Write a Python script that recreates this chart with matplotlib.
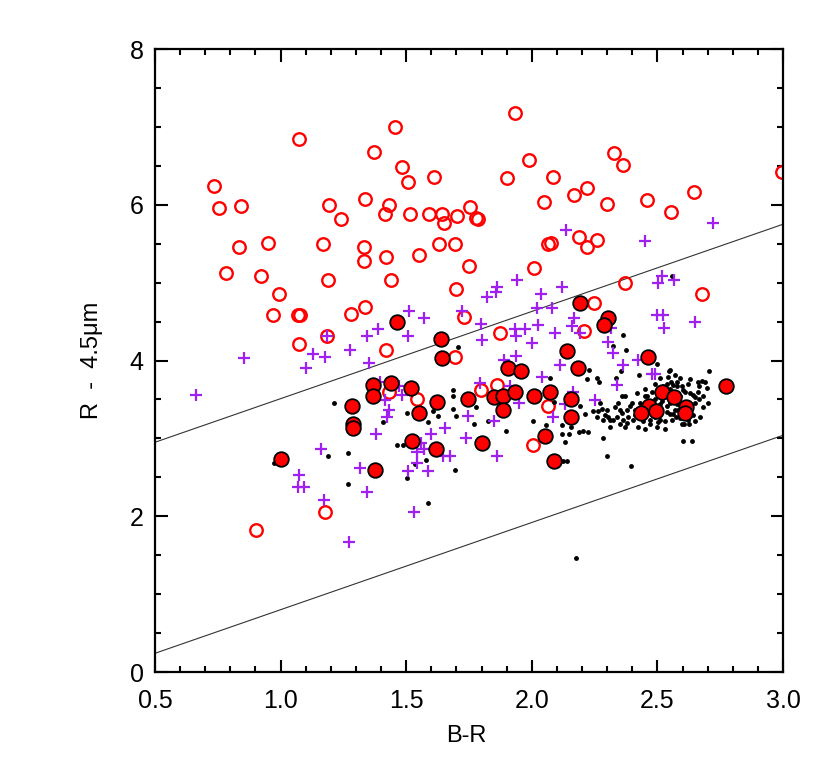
import numpy as np
import matplotlib
matplotlib.use("Agg")
from matplotlib import pyplot as plt
from matplotlib.ticker import MultipleLocator

plt.rcParams['font.family'] = ['Liberation Sans', 'DejaVu Sans']

# red open circles (B-R, R-4.5um)
red_open = [
    (1.073, 6.85), (1.372, 6.68), (1.455, 7.00), (0.735, 6.24), (0.755, 5.96),
    (0.842, 5.99), (1.193, 6.00), (1.336, 6.08), (1.240, 5.82), (1.432, 6.00),
    (1.416, 5.88), (0.834, 5.46), (0.950, 5.51), (1.169, 5.49), (1.332, 5.46),
    (1.332, 5.28), (1.420, 5.33), (0.783, 5.12), (0.922, 5.09), (1.189, 5.04),
    (1.440, 5.04), (0.994, 4.85), (1.933, 7.18), (1.989, 6.58), (1.483, 6.49),
    (1.611, 6.36), (1.507, 6.29), (1.901, 6.35), (2.084, 6.36), (2.220, 6.22),
    (2.168, 6.13), (2.049, 6.04), (1.515, 5.88), (1.591, 5.88), (1.643, 5.88),
    (1.650, 5.76), (1.702, 5.85), (1.754, 5.97), (1.778, 5.83), (1.786, 5.82),
    (1.631, 5.50), (1.694, 5.50), (1.551, 5.36), (1.750, 5.22), (2.064, 5.50),
    (2.076, 5.51), (2.188, 5.59), (2.220, 5.46), (2.009, 5.19), (1.698, 4.92),
    (2.327, 6.67), (2.363, 6.51), (2.299, 6.01), (2.459, 6.06), (2.554, 5.91),
    (2.646, 6.17), (2.260, 5.55), (2.371, 4.99), (2.995, 6.42), (2.678, 4.85),
    (0.970, 4.59), (1.069, 4.59), (1.077, 4.59), (1.280, 4.60), (1.336, 4.69),
    (1.185, 4.31), (1.073, 4.21), (1.420, 4.14), (1.432, 3.59), (1.177, 2.05),
    (0.902, 1.82), (1.730, 4.56), (1.873, 4.35), (2.248, 4.74), (2.208, 4.38),
    (1.694, 4.04), (1.543, 3.51), (1.798, 3.62), (1.861, 3.68), (2.064, 3.41),
    (2.005, 2.91),
]

# red filled circles
red_filled = [
    (1.463, 4.50), (1.639, 4.28), (1.643, 4.03), (1.368, 3.69), (1.440, 3.71),
    (1.368, 3.55), (1.284, 3.42), (1.288, 3.19), (1.288, 3.13), (1.002, 2.74),
    (1.376, 2.60), (1.519, 3.65), (1.551, 3.33), (1.623, 3.47), (1.746, 3.51),
    (1.850, 3.53), (1.885, 3.55), (1.933, 3.60), (2.009, 3.55), (2.072, 3.60),
    (1.885, 3.36), (1.905, 3.91), (1.957, 3.87), (2.192, 4.74), (2.303, 4.55),
    (2.287, 4.45), (2.140, 4.12), (2.184, 3.91), (2.156, 3.51), (2.156, 3.27),
    (1.523, 2.97), (1.619, 2.87), (1.802, 2.94), (2.053, 3.03), (2.088, 2.71),
    (2.463, 4.05), (2.773, 3.67), (2.518, 3.60), (2.566, 3.53), (2.467, 3.42),
    (2.435, 3.33), (2.494, 3.35), (2.614, 3.40), (2.610, 3.32),
]

# purple plus signs
purple_plus = [
    (0.854, 4.03), (0.663, 3.56), (1.129, 4.08), (1.177, 4.04), (1.101, 3.91),
    (1.276, 4.14), (1.344, 4.31), (1.388, 4.40), (1.352, 3.97), (1.185, 4.31),
    (1.416, 3.49), (1.432, 3.36), (1.424, 3.28), (1.380, 3.06), (1.161, 2.86),
    (1.316, 2.62), (1.073, 2.53), (1.069, 2.38), (1.093, 2.37), (1.344, 2.31),
    (1.173, 2.21), (1.272, 1.67), (1.861, 4.95), (1.822, 4.82), (1.857, 4.88),
    (1.941, 5.03), (2.037, 4.85), (2.120, 4.95), (2.021, 4.67), (2.080, 4.68),
    (1.511, 4.63), (1.571, 4.55), (1.507, 4.32), (1.798, 4.47), (1.802, 4.26),
    (1.722, 4.63), (1.933, 4.40), (1.937, 4.31), (1.973, 4.40), (2.025, 4.46),
    (2.001, 4.23), (2.092, 4.35), (2.160, 4.44), (2.168, 4.55), (2.192, 4.35),
    (2.303, 4.24), (2.323, 4.10), (1.889, 4.01), (1.937, 4.06), (2.112, 3.94),
    (2.041, 3.79), (2.363, 3.94), (2.339, 3.69), (2.164, 3.60), (2.252, 3.49),
    (1.794, 3.71), (1.913, 3.67), (1.949, 3.46), (2.132, 3.44), (2.084, 3.27),
    (1.746, 3.29), (1.850, 3.22), (1.654, 3.13), (1.599, 3.06), (1.738, 3.01),
    (1.559, 2.94), (1.543, 2.82), (1.571, 2.87), (1.647, 2.77), (1.675, 2.77),
    (1.543, 2.69), (1.507, 2.58), (1.587, 2.58), (1.861, 2.77), (1.396, 3.72),
    (1.471, 3.67), (1.483, 3.56), (2.136, 5.68), (2.502, 5.00), (2.518, 5.09),
    (2.566, 5.03), (2.451, 5.53), (2.721, 5.76), (2.498, 4.59), (2.522, 4.59),
    (2.526, 4.42), (2.650, 4.49), (2.315, 4.42), (2.423, 4.01), (2.479, 3.83),
    (2.491, 3.83), (1.531, 2.06),
]

# small black dots
black_dots = [
    (1.213, 3.46), (1.408, 3.21), (1.463, 2.91), (1.189, 2.78), (1.268, 2.81),
    (1.268, 2.41), (0.974, 2.69), (1.706, 4.17), (1.686, 3.62), (1.686, 3.54),
    (1.730, 3.54), (1.778, 3.40), (1.770, 3.19), (1.826, 3.22), (1.897, 3.09),
    (1.698, 3.29), (1.686, 3.38), (1.627, 3.29), (1.587, 3.21), (1.607, 3.35),
    (1.503, 3.33), (1.535, 3.27), (1.487, 2.91), (1.579, 2.72), (1.694, 2.59),
    (1.503, 2.49), (1.396, 2.60), (1.535, 2.67), (2.072, 3.77), (2.088, 3.47),
    (2.005, 3.22), (2.057, 3.17), (2.120, 3.17), (2.120, 3.06), (2.148, 3.06),
    (2.156, 3.15), (2.132, 2.95), (2.124, 2.71), (2.140, 2.71), (2.188, 3.08),
    (2.224, 3.08), (2.212, 3.31), (2.220, 3.76), (2.260, 3.77), (2.268, 3.72),
    (2.335, 3.78), (2.355, 3.86), (2.375, 4.14), (2.323, 4.19), (2.363, 4.33),
    (2.279, 3.38), (2.299, 3.37), (2.283, 3.24), (2.311, 3.24), (2.244, 3.35),
    (2.283, 3.00), (2.299, 2.77), (1.587, 2.17), (2.176, 1.47), (2.560, 5.08),
    (2.228, 3.88), (2.427, 3.82), (2.498, 3.95), (2.546, 3.87), (2.192, 3.41),
    (2.264, 3.35), (2.343, 3.46), (2.359, 3.55), (2.371, 3.55), (2.351, 3.37),
    (2.379, 3.37), (2.391, 3.41), (2.411, 3.37), (2.431, 3.46), (2.451, 3.63),
    (2.459, 3.54), (2.303, 3.27), (2.323, 3.24), (2.339, 3.28), (2.363, 3.24),
    (2.383, 3.27), (2.403, 3.24), (2.443, 3.22), (2.471, 3.24), (2.510, 3.24),
    (2.530, 3.22), (2.550, 3.31), (2.570, 3.37), (2.578, 3.44), (2.546, 3.50),
    (2.554, 3.73), (2.542, 3.79), (2.578, 3.67), (2.371, 3.14), (2.423, 3.15),
    (2.451, 3.12), (2.498, 3.14), (2.502, 3.21), (2.530, 3.12), (2.204, 3.10),
    (2.395, 2.65), (2.490, 3.50), (2.510, 3.44), (2.538, 3.41), (2.478, 3.60),
    (2.522, 3.67), (2.550, 3.63), (2.590, 3.46), (2.705, 3.87), (2.678, 3.74),
    (2.690, 3.73), (2.662, 3.72), (2.630, 3.76), (2.590, 3.77), (2.550, 3.88),
    (2.562, 3.69), (2.598, 3.67), (2.590, 3.54), (2.610, 3.59), (2.630, 3.58),
    (2.642, 3.56), (2.666, 3.67), (2.697, 3.65), (2.622, 3.47), (2.650, 3.53),
    (2.666, 3.50), (2.650, 3.45), (2.582, 3.37), (2.562, 3.31), (2.574, 3.28),
    (2.558, 3.24), (2.622, 3.24), (2.598, 3.19), (2.606, 3.19), (2.626, 3.19),
    (2.602, 2.97), (2.638, 2.97), (2.578, 3.73), (2.46, 3.40), (2.47, 3.47),
    (2.48, 3.36), (2.50, 3.30), (2.51, 3.38), (2.52, 3.48), (2.53, 3.55),
    (2.54, 3.34), (2.55, 3.45), (2.56, 3.58), (2.49, 3.28), (2.44, 3.30),
    (2.43, 3.38), (2.41, 3.30), (2.45, 3.55), (2.52, 3.62), (2.54, 3.70),
    (2.57, 3.52), (2.58, 3.58), (2.60, 3.62), (2.61, 3.40), (2.63, 3.42),
    (2.64, 3.30), (2.60, 3.30), (2.59, 3.26), (2.47, 3.18), (2.40, 3.45),
    (2.36, 3.33), (2.33, 3.40), (2.38, 3.20), (2.35, 3.18), (2.31, 3.15),
    (2.29, 3.30), (2.27, 3.45), (2.26, 3.27), (2.42, 3.58), (2.49, 3.70),
    (2.51, 3.78), (2.57, 3.82), (2.62, 3.70), (2.66, 3.60), (2.68, 3.55),
    (2.70, 3.46), (2.68, 3.40), (2.67, 3.28), (2.65, 3.22),
]

# two reference lines
line_x = [0.5, 3.0]
upper_y = [2.95, 5.75]
lower_y = [0.24, 3.04]


def xy(pts):
    a = np.array(pts)
    return a[:, 0], a[:, 1]


fig = plt.figure(figsize=(8.3, 7.71), dpi=100)
ax = fig.add_axes([0.1867, 0.1284, 0.7567, 0.808])

ax.plot(line_x, upper_y, color='#333333', lw=0.8, zorder=1)
ax.plot(line_x, lower_y, color='#333333', lw=0.8, zorder=1)

x, y = xy(red_open)
ax.plot(x, y, 'o', ls='none', ms=9, mfc='none', mec='#ff0000', mew=1.7, zorder=2)
x, y = xy(black_dots)
ax.plot(x, y, 'o', ls='none', ms=3.5, mfc='black', mec='black', mew=0, zorder=3)
x, y = xy(purple_plus)
ax.plot(x, y, '+', ls='none', ms=9, mec='#a020f0', mew=1.6, zorder=4)
x, y = xy(red_filled)
ax.plot(x, y, 'o', ls='none', ms=10.5, mfc='#ff0000', mec='black', mew=1.3, zorder=5)

ax.set_xlim(0.5, 3.0)
ax.set_ylim(0, 8)
ax.xaxis.set_major_locator(MultipleLocator(0.5))
ax.xaxis.set_minor_locator(MultipleLocator(0.1))
ax.yaxis.set_major_locator(MultipleLocator(2))
ax.yaxis.set_minor_locator(MultipleLocator(0.5))
ax.xaxis.set_major_formatter(plt.FormatStrFormatter('%.1f'))
ax.yaxis.set_major_formatter(plt.FormatStrFormatter('%d'))

ax.tick_params(which='both', direction='in', top=True, right=True, width=1.5)
ax.tick_params(which='major', length=9)
ax.tick_params(which='minor', length=4.5)
ax.tick_params(axis='x', which='major', labelsize=18, pad=12)
ax.tick_params(axis='y', which='major', labelsize=18, pad=8)
for s in ax.spines.values():
    s.set_linewidth(1.6)

ax.set_xlabel('B-R', fontsize=17)
ax.xaxis.set_label_coords(0.495, -0.085)
ax.set_ylabel('R  -  4.5μm', fontsize=17)
ax.yaxis.set_label_coords(-0.083, 0.5)

fig.savefig('out.png', dpi=100)
